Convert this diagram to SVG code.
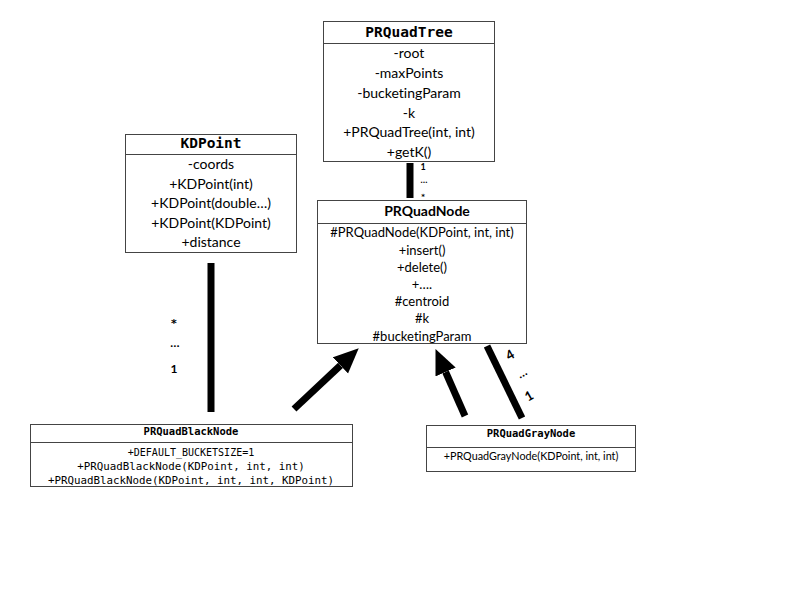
<svg xmlns="http://www.w3.org/2000/svg" width="792" height="612" viewBox="0 0 792 612">
<style>
.box{fill:#fff;stroke:#444;stroke-width:1}
.div{stroke:#444;stroke-width:1}
text{font-variant-ligatures:none}
.mt{font-family:"DejaVu Sans Mono",monospace;font-weight:bold;text-anchor:middle;fill:#000}
.mono{font-family:"DejaVu Sans Mono",monospace;text-anchor:middle;fill:#000}
.cal{font-family:Lato,"Liberation Sans",sans-serif;text-anchor:middle;fill:#000}
.calb{font-family:Lato,"Liberation Sans",sans-serif;font-weight:bold;text-anchor:middle;fill:#000}
.lbl{font-family:Lato,"Liberation Sans",sans-serif;font-weight:bold;text-anchor:middle;fill:#000}
.star{font-family:"DejaVu Sans",sans-serif;font-weight:bold;text-anchor:middle;fill:#000}
.thick{stroke:#000;stroke-width:7;fill:none}
</style>
<defs>
<marker id="head" markerUnits="userSpaceOnUse" markerWidth="26" markerHeight="24" refX="0" refY="11" orient="auto">
<path d="M0,0 L25,11 L0,22 z" fill="#000"/>
</marker>
</defs>
<rect width="792" height="612" fill="#fff"/>

<g id="connectors">
<line x1="410" y1="163" x2="410" y2="198" class="thick" stroke-width="6"/>
<line x1="211" y1="263" x2="211" y2="412" class="thick" stroke-width="6"/>
<line x1="294" y1="409" x2="340.5" y2="365.4" class="thick" marker-end="url(#head)"/>
<line x1="465" y1="416" x2="445.6" y2="372" class="thick" marker-end="url(#head)"/>
<line x1="487" y1="346" x2="522" y2="418" class="thick"/>
<text x="423" y="170" class="lbl" font-size="9">1</text>
<text x="424" y="183" class="lbl" font-size="9">…</text>
<text x="423" y="199" class="star" font-size="7">*</text>
<text x="174" y="327" class="star" font-size="11">*</text>
<text x="175" y="347" class="lbl" font-size="12">…</text>
<text x="174" y="373" class="lbl" font-size="12">1</text>
<text x="510" y="359.5" class="lbl" font-size="13" transform="rotate(-30 510 355)">4</text>
<text x="522" y="377" class="lbl" font-size="12" transform="rotate(-30 522 373)">…</text>
<text x="529" y="400.5" class="lbl" font-size="13" transform="rotate(-30 529 396)">1</text>
</g>

<g id="PRQuadTree">
<rect x="323.5" y="21.5" width="171" height="140" class="box"/>
<line x1="323.5" y1="43.5" x2="494.5" y2="43.5" class="div"/>
<text x="409" y="37" class="mt" font-size="14.5">PRQuadTree</text>
<text x="409" y="58" class="cal" font-size="14">-root</text>
<text x="409" y="78" class="cal" font-size="14">-maxPoints</text>
<text x="409" y="98" class="cal" font-size="14">-bucketingParam</text>
<text x="409" y="118" class="cal" font-size="14">-k</text>
<text x="409" y="137" class="cal" font-size="14">+PRQuadTree(int, int)</text>
<text x="409" y="157" class="cal" font-size="14">+getK()</text>
</g>

<g id="KDPoint">
<rect x="125.5" y="134.5" width="171" height="118" class="box"/>
<line x1="125.5" y1="154.5" x2="296.5" y2="154.5" class="div"/>
<text x="211" y="148" class="mt" font-size="14.5">KDPoint</text>
<text x="211" y="169" class="cal" font-size="14">-coords</text>
<text x="211" y="189" class="cal" font-size="14">+KDPoint(int)</text>
<text x="211" y="208" class="cal" font-size="14">+KDPoint(double…)</text>
<text x="211" y="228" class="cal" font-size="14">+KDPoint(KDPoint)</text>
<text x="211" y="247" class="cal" font-size="14">+distance</text>
</g>

<g id="PRQuadNode">
<rect x="317.5" y="200.5" width="209" height="143" class="box"/>
<line x1="317.5" y1="223.5" x2="526.5" y2="223.5" class="div"/>
<text x="427" y="216" class="calb" font-size="14">PRQuadNode</text>
<text x="422" y="236.5" class="cal" font-size="13">#PRQuadNode(KDPoint, int, int)</text>
<text x="422" y="254.5" class="cal" font-size="13">+insert()</text>
<text x="422" y="271.5" class="cal" font-size="13">+delete()</text>
<text x="422" y="288.5" class="cal" font-size="13">+….</text>
<text x="422" y="305.5" class="cal" font-size="13">#centroid</text>
<text x="422" y="322.5" class="cal" font-size="13">#k</text>
<text x="422" y="340.5" class="cal" font-size="13">#bucketingParam</text>
</g>

<g id="PRQuadBlackNode">
<rect x="30.5" y="424.5" width="322" height="62" class="box"/>
<line x1="30.5" y1="442.5" x2="352.5" y2="442.5" class="div"/>
<text x="191" y="435" class="mt" font-size="10.5">PRQuadBlackNode</text>
<text x="191" y="456" class="mono" font-size="10">+DEFAULT_BUCKETSIZE=1</text>
<text x="191" y="470" class="mono" font-size="10.8">+PRQuadBlackNode(KDPoint, int, int)</text>
<text x="191" y="484" class="mono" font-size="10.8">+PRQuadBlackNode(KDPoint, int, int, KDPoint)</text>
</g>

<g id="PRQuadGrayNode">
<rect x="426.5" y="425.5" width="209" height="46" class="box"/>
<line x1="426.5" y1="447.5" x2="635.5" y2="447.5" class="div"/>
<text x="531" y="437" class="mt" font-size="10.5">PRQuadGrayNode</text>
<text x="531" y="460" class="cal" font-size="10.8">+PRQuadGrayNode(KDPoint, int, int)</text>
</g>
</svg>
